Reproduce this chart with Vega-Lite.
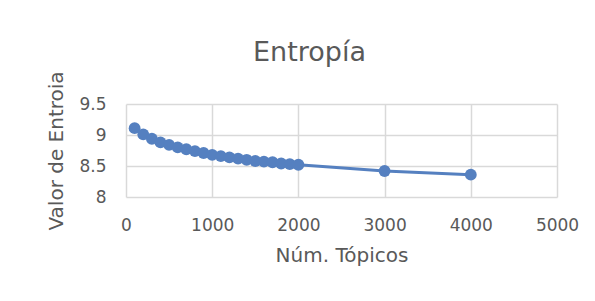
{
  "$schema": "https://vega.github.io/schema/vega-lite/v6.json",
  "width": 431,
  "height": 93,
  "autosize": {"type": "none"},
  "padding": {"left": 126, "top": 104, "right": 38, "bottom": 104},
  "background": "white",
  "title": {
    "text": "Entropía",
    "font": "DejaVu Sans",
    "fontSize": 27,
    "fontWeight": "normal",
    "color": "#595959",
    "anchor": "middle",
    "frame": "group",
    "dx": -32,
    "offset": 40,
    "dy": 36
  },
  "config": {
    "view": {"stroke": null},
    "axis": {
      "labelFont": "DejaVu Sans",
      "labelFontSize": 17,
      "labelColor": "#595959",
      "titleFont": "DejaVu Sans",
      "titleFontWeight": "normal",
      "titleColor": "#595959",
      "gridColor": "#d9d9d9",
      "gridWidth": 1.5,
      "domain": false,
      "ticks": false,
      "tickSize": 0
    }
  },
  "data": {
    "values": [
      {"topicos": 100, "entropia": 9.11},
      {"topicos": 200, "entropia": 9.01},
      {"topicos": 300, "entropia": 8.94},
      {"topicos": 400, "entropia": 8.88},
      {"topicos": 500, "entropia": 8.84},
      {"topicos": 600, "entropia": 8.80},
      {"topicos": 700, "entropia": 8.77},
      {"topicos": 800, "entropia": 8.74},
      {"topicos": 900, "entropia": 8.71},
      {"topicos": 1000, "entropia": 8.68},
      {"topicos": 1100, "entropia": 8.66},
      {"topicos": 1200, "entropia": 8.64},
      {"topicos": 1300, "entropia": 8.62},
      {"topicos": 1400, "entropia": 8.60},
      {"topicos": 1500, "entropia": 8.58},
      {"topicos": 1600, "entropia": 8.57},
      {"topicos": 1700, "entropia": 8.56},
      {"topicos": 1800, "entropia": 8.54},
      {"topicos": 1900, "entropia": 8.53},
      {"topicos": 2000, "entropia": 8.52},
      {"topicos": 3000, "entropia": 8.42},
      {"topicos": 4000, "entropia": 8.36}
    ]
  },
  "encoding": {
    "x": {
      "field": "topicos",
      "type": "quantitative",
      "scale": {"domain": [0, 5000], "nice": false},
      "axis": {
        "title": "Núm. Tópicos",
        "titleFontSize": 20,
        "values": [0, 1000, 2000, 3000, 4000, 5000],
        "format": "d",
        "labelPadding": 20,
        "titlePadding": 12,
        "labelFlush": false
      }
    },
    "y": {
      "field": "entropia",
      "type": "quantitative",
      "scale": {"domain": [8, 9.5], "nice": false, "zero": false},
      "axis": {
        "title": "Valor de Entroia",
        "titleFontSize": 20,
        "values": [8, 8.5, 9, 9.5],
        "format": "~g",
        "labelPadding": 20,
        "titlePadding": 12,
        "labelFlush": false
      }
    }
  },
  "layer": [
    {"mark": {"type": "line", "color": "#5580c0", "strokeWidth": 3}},
    {"mark": {"type": "point", "shape": "circle", "filled": true, "opacity": 1, "color": "#5580c0", "size": 140}}
  ]
}
